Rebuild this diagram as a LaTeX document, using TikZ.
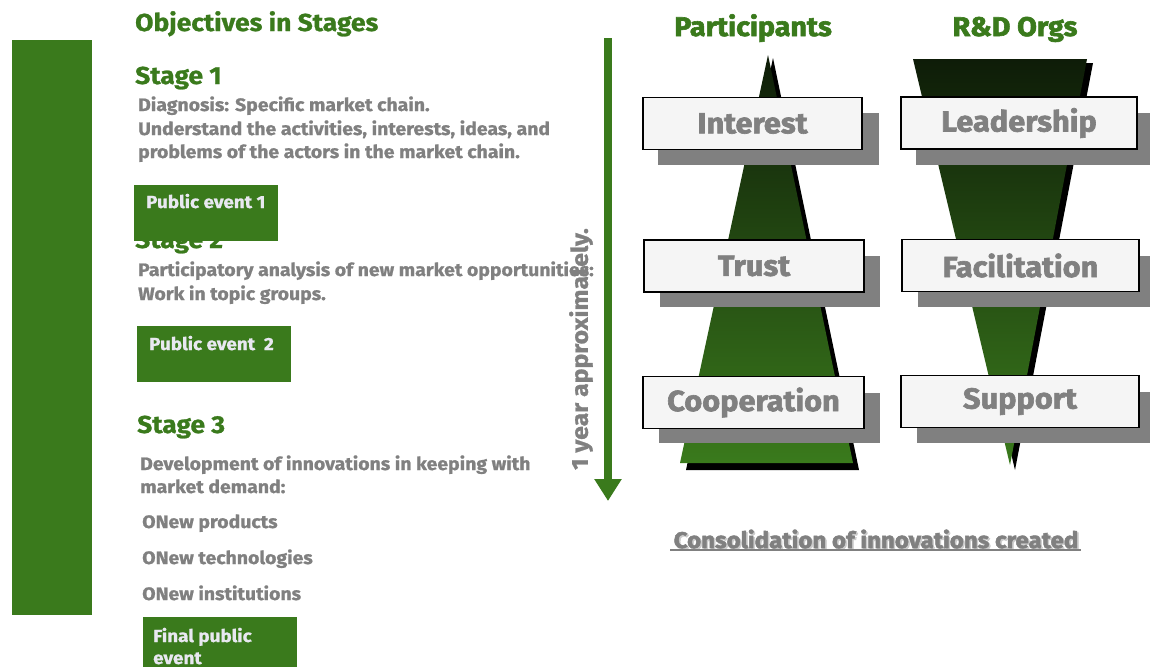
\documentclass[tikz,border=0pt]{standalone}
\usepackage{fontspec}
\setmainfont{Fira Sans}[FakeStretch=1.08, BoldFeatures={FakeBold=1}]
\newfontfamily\heavyfont{Fira Sans}[FakeStretch=1.06, BoldFeatures={FakeBold=2.2}]
\usetikzlibrary{arrows.meta}
\definecolor{leaf}{RGB}{58,122,28}
\definecolor{ink}{RGB}{128,128,128}
\definecolor{deep}{RGB}{14,28,8}
\definecolor{paper}{RGB}{245,245,245}
\definecolor{pale}{RGB}{232,232,240}
\tikzset{
  title/.style={text=leaf, font=\fontsize{24.5}{26}\selectfont\bfseries, anchor=base west, inner sep=0pt},
  body/.style={text=ink, font=\fontsize{18}{22.5}\selectfont\bfseries, anchor=base west, inner sep=0pt},
  eventbox/.style={fill=leaf, draw=none},
  eventtext/.style={text=pale, font=\fontsize{17.5}{22}\selectfont\bfseries, anchor=base west, inner sep=0pt, align=left},
  label/.style={fill=paper, draw=black, line width=1.6pt, text=ink, font=\heavyfont\fontsize{29}{30}\selectfont\bfseries, minimum height=52pt, inner sep=0pt},
  shadowbox/.style={fill=ink, draw=none},
  colhead/.style={text=leaf, font=\heavyfont\fontsize{27}{28}\selectfont\bfseries, inner sep=0pt, anchor=base},
}
\begin{document}
\begin{tikzpicture}[x=1pt,y=-1pt]
\useasboundingbox (0,0) rectangle (1150,667);
\fill[white] (0,0) rectangle (1150,667);

% left band
\fill[leaf] (12,40) rectangle (92,615);

% stage texts
\node[title] (obj) at (135,31) {Objectives in Stages};
\node[title] (s1) at (135,84) {Stage 1};
\node[body] (d1) at (138,111) {Diagnosis: Specific market chain.};
\node[body] (d2) at (138,135) {Understand the activities, interests, ideas, and};
\node[body] (d3) at (138,158) {problems of the actors in the market chain.};
\node[title] (s2) at (135,248) {Stage 2};
\fill[eventbox] (134,185) rectangle (278,241);
\node[eventtext] (e1) at (146,208) {Public event 1};
\node[body] (p1) at (138,276) {Participatory analysis of new market opportunities:};
\node[body] (p2) at (138,300) {Work in topic groups.};
\fill[eventbox] (137,326) rectangle (291,382);
\node[eventtext] (e2) at (149,350) {Public event\ \ 2};
\node[title] (s3) at (137,433) {Stage 3};
\node[body] (v1) at (140,470) {Development of innovations in keeping with};
\node[body] (v2) at (140,493) {market demand:};
\node[body] (b1) at (142,528) {ONew products};
\node[body] (b2) at (142,564) {ONew technologies};
\node[body] (b3) at (142,600) {ONew institutions};
\fill[eventbox] (143,617) rectangle (297,667);
\node[eventtext] (e3) at (153,664) {Final public\\event};

% time arrow
\coordinate (tstart) at (608,38);
\coordinate (tend) at (608,501);
\draw[leaf, line width=8pt, -{Triangle[width=26pt,length=22pt]}] (tstart) -- (tend);
\node[text=ink, font=\fontsize{23}{24}\selectfont\bfseries, rotate=90, inner sep=0pt] (yr) at (581,349) {1 year approximately.};

% column headers
\node[colhead] (hp) at (753,36) {Participants};
\node[colhead] (hr) at (1015,36) {R\&D Orgs};

% rising pyramid
\fill[black] (773,58) -- (859,470) -- (686,470) -- cycle;
\shade[top color=deep, bottom color=leaf] (768,55) -- (853,463) -- (680,463) -- cycle;

% falling pyramid
\fill[black] (918,63) -- (1093,63) -- (1015,470) -- cycle;
\shade[top color=deep, bottom color=leaf] (913,59) -- (1087,59) -- (1010,465) -- cycle;

% label boxes with drop shadows
\fill[shadowbox] (658,113) rectangle (879,165);
\fill[shadowbox] (916,113) rectangle (1150,165);
\fill[shadowbox] (660,256) rectangle (880,307);
\fill[shadowbox] (918,256) rectangle (1150,307);
\fill[shadowbox] (659,393) rectangle (880,443);
\fill[shadowbox] (917,392) rectangle (1150,443);
\node[label, minimum width=219pt] (interest) at (752.5,123.5) {Interest};
\node[label, minimum width=236pt] (lead) at (1019,123) {Leadership};
\node[label, minimum width=220pt] (trust) at (754,266) {Trust};
\node[label, minimum width=237pt] (facil) at (1020.5,265.5) {Facilitation};
\node[label, minimum width=221pt] (coop) at (753.5,402.5) {Cooperation};
\node[label, minimum width=238pt] (supp) at (1020,401.5) {Support};

% closing caption
\node[text=ink!40, font=\heavyfont\fontsize{22.7}{24}\selectfont\bfseries, inner sep=0pt] at (877.5,540.5) {Consolidation of innovations created};
\node[text=ink, font=\heavyfont\fontsize{22.7}{24}\selectfont\bfseries, inner sep=0pt] (cons) at (876,539) {Consolidation of innovations created};
\draw[ink, line width=2pt] (670,549.5) -- (1081,549.5);
\end{tikzpicture}
\end{document}
